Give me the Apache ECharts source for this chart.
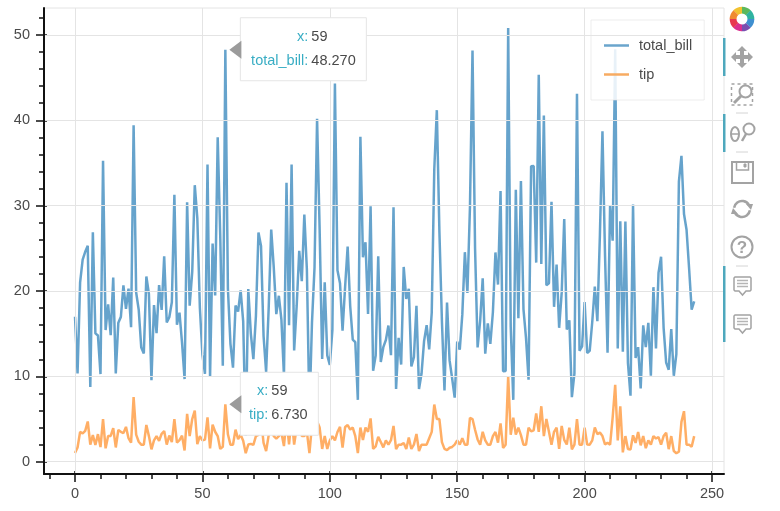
<!DOCTYPE html>
<html><head><meta charset="utf-8">
<style>html,body{margin:0;padding:0;background:#fff}#c{width:780px;height:511px}</style>
<script src="https://cdn.jsdelivr.net/npm/echarts@6/dist/echarts.min.js"></script>
</head><body><div id="c"></div>
<script>
const total_bill=[16.99,10.34,21.01,23.68,24.59,25.29,8.77,26.88,15.04,14.78,10.27,35.26,15.42,18.43,14.83,21.58,10.33,16.29,16.97,20.65,17.92,20.29,15.77,39.42,19.82,17.81,13.37,12.69,21.7,19.65,9.55,18.35,15.06,20.69,17.78,24.06,16.31,16.93,18.69,31.27,16.04,17.46,13.94,9.68,30.4,18.29,22.23,32.4,28.55,18.04,12.54,10.29,34.81,9.94,25.56,19.49,38.01,26.41,11.24,48.27,20.29,13.81,11.02,18.29,17.59,20.08,16.45,3.07,20.23,15.01,12.02,17.07,26.86,25.28,14.73,10.51,17.92,27.2,22.76,17.29,19.44,16.66,10.07,32.68,15.98,34.83,13.03,18.28,24.71,21.16,28.97,22.49,5.75,16.32,22.75,40.17,27.28,12.03,21.01,12.46,11.35,15.38,44.3,22.42,20.92,15.36,20.49,25.21,18.24,14.31,14.0,7.25,38.07,23.95,25.71,17.31,29.93,10.65,12.43,24.08,11.69,13.42,14.26,15.95,12.48,29.8,8.52,14.52,11.38,22.82,19.08,20.27,11.17,12.26,18.26,8.51,10.33,14.15,16.0,13.16,17.47,34.3,41.19,27.05,16.43,8.35,18.64,11.87,9.78,7.51,14.07,13.13,17.26,24.55,19.77,29.85,48.17,25.0,13.39,16.49,21.5,12.66,16.21,13.81,17.51,24.52,20.76,31.71,10.59,10.63,50.81,15.81,7.25,31.85,16.82,32.9,17.89,14.48,9.6,34.63,34.65,23.33,45.35,23.17,40.55,20.69,20.9,30.46,18.15,23.1,15.69,19.81,28.44,15.48,16.58,7.56,10.34,43.11,13.0,13.51,18.71,12.74,13.0,16.4,20.53,16.47,26.59,38.73,24.27,12.76,30.06,25.89,48.33,13.27,28.17,12.9,28.15,11.59,7.74,30.14,12.16,13.42,8.58,15.98,13.42,16.27,10.09,20.45,13.28,22.12,24.01,15.69,11.61,10.77,15.53,10.07,12.6,32.83,35.83,29.03,27.18,22.67,17.82,18.78];
const tip=[1.01,1.66,3.5,3.31,3.61,4.71,2.0,3.12,1.96,3.23,1.71,5.0,1.57,3.0,3.02,3.92,1.67,3.71,3.5,3.35,4.08,2.75,2.23,7.58,3.18,2.34,2.0,2.0,4.3,3.0,1.45,2.5,3.0,2.45,3.27,3.6,2.0,3.07,2.31,5.0,2.24,2.54,3.06,1.32,5.6,3.0,5.0,6.0,2.05,3.0,2.5,2.6,5.2,1.56,4.34,3.51,3.0,1.5,1.76,6.73,3.21,2.0,1.98,3.76,2.64,3.15,2.47,1.0,2.01,2.09,1.97,3.0,3.14,5.0,2.2,1.25,3.08,4.0,3.0,2.71,3.0,3.4,1.83,5.0,2.03,5.17,2.0,4.0,5.85,3.0,3.0,3.5,1.0,4.3,3.25,4.73,4.0,1.5,3.0,1.5,2.5,3.0,2.5,3.48,4.08,1.64,4.06,4.29,3.76,4.0,3.0,1.0,4.0,2.55,4.0,3.5,5.07,1.5,1.8,2.92,2.31,1.68,2.5,2.0,2.52,4.2,1.48,2.0,2.0,2.18,1.5,2.83,1.5,2.0,3.25,1.25,2.0,2.0,2.0,2.75,3.5,6.7,5.0,5.0,2.3,1.5,1.36,1.63,1.73,2.0,2.5,2.0,2.74,2.0,2.0,5.14,5.0,3.75,2.61,2.0,3.5,2.5,2.0,2.0,3.0,3.48,2.24,4.5,1.61,2.0,10.0,3.16,5.15,3.18,4.0,3.11,2.0,2.0,4.0,3.55,3.68,5.65,3.5,6.5,3.0,5.0,3.5,2.0,3.5,4.0,1.5,4.19,2.56,2.02,4.0,1.44,2.0,5.0,2.0,2.0,4.0,2.01,2.0,2.5,4.0,3.23,3.41,3.0,2.03,2.23,2.0,5.16,9.0,2.5,6.5,1.1,3.0,1.5,1.44,3.09,2.2,3.48,1.92,3.0,1.58,2.5,2.0,3.0,2.72,2.88,2.0,3.0,3.39,1.47,3.0,1.25,1.0,1.17,4.67,5.92,2.0,2.0,1.75,3.0];
const xMajor=[0,50,100,150,200,250];
const xMinor=[-10,10,20,30,40,60,70,80,90,110,120,130,140,160,170,180,190,210,220,230,240];
const yMajor=[0,10,20,30,40,50];
const yMinor=[2,4,6,8,12,14,16,18,22,24,26,28,32,34,36,38,42,44,46,48,52];
const hoverIndex=59;
const xRange=[-12.17,254.7], yRange=[-1.44,53.16];

const FONT='"Liberation Sans",Arial,sans-serif', INK='#4a4a4a', GRID='#e4e4e4', TEAL='#38adc4', ICON='#a3a3a3';
const chart=echarts.init(document.getElementById('c'),null,{renderer:'canvas'});
const noLine={show:false,onZero:false};
function axes(dim,major,minor,range,labelMargin){
  const base={type:'value',min:range[0],max:range[1],position:dim==='x'?'bottom':'left',
    splitLine:{show:false},axisLabel:{show:false},axisTick:{show:false},axisLine:noLine};
  return [
    Object.assign({},base,{z:5,axisLine:{show:true,onZero:false,lineStyle:{color:'#111',width:2}},
      axisTick:{show:true,customValues:major,length:8,lineStyle:{color:'#111',width:1.5}},
      axisLabel:{show:true,customValues:major,margin:labelMargin,color:INK,fontFamily:FONT,fontSize:14.5},
      splitLine:{show:true,lineStyle:{color:GRID,width:1}}}),
    Object.assign({},base,{axisTick:{show:true,inside:true,customValues:major,length:3,lineStyle:{color:'#111',width:1.5}}}),
    Object.assign({},base,{axisTick:{show:true,customValues:minor,length:5,lineStyle:{color:'#111',width:1.5}}})
  ];
}
const pts=a=>a.map((v,i)=>[i,v]);
chart.setOption({
  animation:false,
  backgroundColor:'#fff',
  grid:{left:44,top:8,width:680,height:466,show:true,borderColor:GRID,borderWidth:1,backgroundColor:'transparent'},
  xAxis:axes('x',xMajor,xMinor,xRange,12),
  yAxis:axes('y',yMajor,yMinor,yRange,14),
  legend:{left:591,top:20,orient:'vertical',icon:'rect',itemWidth:25,itemHeight:2.5,itemGap:14,
    padding:[18,12,18,13],backgroundColor:'rgba(255,255,255,0.85)',borderColor:'rgba(225,225,225,0.6)',borderWidth:1,
    textStyle:{color:INK,fontFamily:FONT,fontSize:14.5,padding:[0,0,0,5]},
    data:['total_bill','tip']},
  series:[
    {name:'total_bill',type:'line',data:pts(total_bill),symbol:'none',showSymbol:false,lineStyle:{color:'#4b93c3',width:2.5,opacity:.85},itemStyle:{color:'#6aa5cc'},z:3},
    {name:'tip',type:'line',data:pts(tip),symbol:'none',showSymbol:false,lineStyle:{color:'#ff9a3f',width:2.5,opacity:.8},itemStyle:{color:'#f7ab62'},z:3}
  ]
});

/* hover tooltips anchored on the data */
function tooltip(name,val,boxW,labelEnd){
  const p=chart.convertToPixel({xAxisIndex:0,yAxisIndex:0},[hoverIndex,val]);
  const tx=p[0]+4, ty=p[1], bx=tx+11, by=ty-32;
  const t=(s,x,y,c,a)=>({type:'text',z:101,style:{text:s,x:x,y:y,fill:c,font:'14.5px '+FONT,textAlign:a,textVerticalAlign:'middle'}});
  return [
    {type:'rect',z:100,shape:{x:bx,y:by,width:boxW,height:63},style:{fill:'#fff',stroke:'#e5e5e5',lineWidth:1}},
    {type:'polygon',z:101,shape:{points:[[tx,ty],[tx+12,ty-9],[tx+12,ty+9]]},style:{fill:'#9b9b9b'}},
    t('x:',bx+labelEnd,by+19,TEAL,'right'),
    t(String(hoverIndex),bx+labelEnd+3,by+19,INK,'left'),
    t(name+':',bx+labelEnd,by+43,TEAL,'right'),
    t(val.toFixed(3),bx+labelEnd+3,by+43,INK,'left')
  ];
}
/* toolbar */
const tb=[];
const line=(x1,y1,x2,y2,w,c)=>({type:'line',z:50,shape:{x1,y1,x2,y2},style:{stroke:c||ICON,lineWidth:w||2}});
const circ=(cx,cy,r,w)=>({type:'circle',z:50,shape:{cx,cy,r},style:{fill:'none',stroke:ICON,lineWidth:w||2}});
const rect=(x,y,width,height,w,extra)=>({type:'rect',z:50,shape:{x,y,width,height},style:Object.assign({fill:'none',stroke:ICON,lineWidth:w||2},extra||{})});
[[38,76],[114,152],[266,342]].forEach(s=>tb.push({type:'rect',z:50,shape:{x:723,y:s[0],width:2.5,height:s[1]-s[0]},style:{fill:'#4ea8bd'}}));
[113,152,266].forEach(y=>tb.push(line(736,y,748,y,1,'#d4d4d4')));
const logo=['#f2c230','#5cb85c','#2fb3a0','#3f8fd0','#7a4fb0','#d9308f','#e8384f','#f08a30'];
logo.forEach((c,i)=>{const a0=-Math.PI/2-Math.PI/4+i*Math.PI/4;
  tb.push({type:'sector',z:50,shape:{cx:742,cy:19,r:12.3,r0:5.5,startAngle:a0,endAngle:a0+Math.PI/4+.02},style:{fill:c}});});
/* pan */
tb.push({type:'polygon',z:50,shape:{points:[[742,46],[747,51],[744,51],[744,55],[748,55],[748,52],[753,57],[748,62],[748,59],[744,59],[744,63],[747,63],[742,68],[737,63],[740,63],[740,59],[736,59],[736,62],[731,57],[736,52],[736,55],[740,55],[740,51],[737,51]]},style:{fill:ICON}});
/* box zoom */
tb.push(rect(731.5,84,21,21,1.5,{lineDash:[3,3]}),circ(745.5,91.5,6,2),line(741,96,734,103,3));
/* wheel zoom */
tb.push({type:'ellipse',z:50,shape:{cx:735,cy:134,rx:4,ry:7},style:{fill:'none',stroke:ICON,lineWidth:2}},line(732,134,738,134,1.5),circ(749,129,5.5,2),line(746,134,742,141,2.5));
/* save */
tb.push(rect(732,162,21,21,2),rect(736.5,162,12,8,1.5),rect(744,164,2,3,1,{fill:ICON}));
/* reset */
tb.push({type:'arc',z:50,shape:{cx:742,cy:209,r:8,startAngle:Math.PI*1.05,endAngle:Math.PI*1.85},style:{stroke:ICON,lineWidth:2.5,fill:'none'}},
 {type:'arc',z:50,shape:{cx:742,cy:209,r:8,startAngle:Math.PI*.05,endAngle:Math.PI*.85},style:{stroke:ICON,lineWidth:2.5,fill:'none'}},
 {type:'polygon',z:50,shape:{points:[[746,204],[753,204],[751,210]]},style:{fill:ICON}},
 {type:'polygon',z:50,shape:{points:[[738,214],[731,214],[733,208]]},style:{fill:ICON}});
/* help */
tb.push(circ(742,247,10.5,2),{type:'text',z:50,style:{text:'?',x:742,y:248,fill:ICON,font:'bold 17px '+FONT,textAlign:'center',textVerticalAlign:'middle'}});
/* hover */
[277,315].forEach(y=>{
  tb.push({type:'polygon',z:50,shape:{points:[[735,y],[750,y],[751,y+1],[751,y+13],[750,y+14],[746,y+14],[742.5,y+18],[739,y+14],[735,y+14],[734,y+13],[734,y+1]]},style:{fill:'none',stroke:ICON,lineWidth:1.5}});
  [3,6,9].forEach(d=>tb.push(line(737,y+d+.5,748,y+d+.5,1.5,'#b5b5b5')));
});
chart.setOption({graphic:{elements:[...tb,...tooltip('total_bill',total_bill[hoverIndex],126,68),...tooltip('tip',tip[hoverIndex],78,28)]}});
</script></body></html>
